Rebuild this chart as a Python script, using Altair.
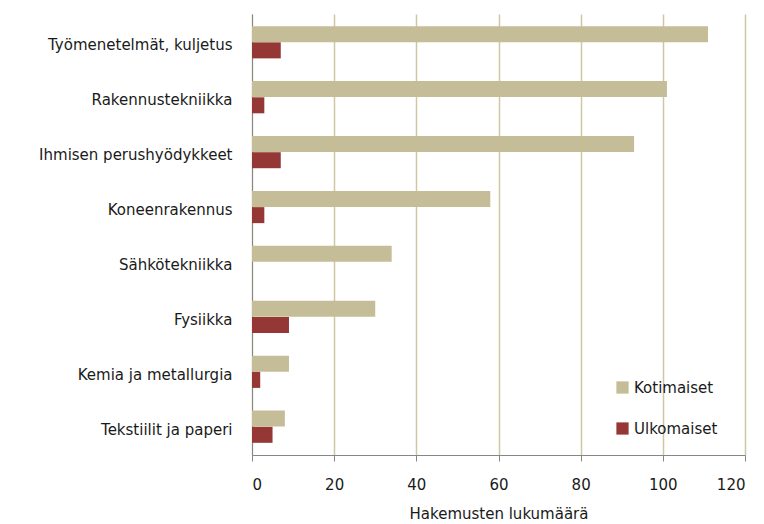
import altair as alt
import pandas as pd

categories = [
    "Työmenetelmät, kuljetus",
    "Rakennustekniikka",
    "Ihmisen perushyödykkeet",
    "Koneenrakennus",
    "Sähkötekniikka",
    "Fysiikka",
    "Kemia ja metallurgia",
    "Tekstiilit ja paperi",
]
kotimaiset = [111, 101, 93, 58, 34, 30, 9, 8]
ulkomaiset = [7, 3, 7, 3, 0, 9, 2, 5]
series = ["Kotimaiset", "Ulkomaiset"]
colors = ["#C4BD97", "#953735"]
x_ticks = [0, 20, 40, 60, 80, 100, 120]

rows = []
for c, k, u in zip(categories, kotimaiset, ulkomaiset):
    rows.append({"Luokka": c, "Sarja": series[0], "Arvo": k})
    rows.append({"Luokka": c, "Sarja": series[1], "Arvo": u})
df = pd.DataFrame(rows)

FONT = "DejaVu Sans"
FS = 15

chart = alt.Chart(df).mark_bar(size=16).encode(
    y=alt.Y(
        "Luokka:N",
        sort=categories,
        scale=alt.Scale(paddingInner=0.41, paddingOuter=0.22),
        axis=alt.Axis(
            title=None,
            ticks=False,
            labelPadding=20,
            labelOffset=3,
            labelFont=FONT,
            labelFontSize=FS,
            labelColor="#1a1a1a",
            domainColor="#868686",
            grid=False,
            labelLimit=300,
        ),
    ),
    yOffset=alt.YOffset("Sarja:N", sort=series),
    x=alt.X(
        "Arvo:Q",
        scale=alt.Scale(domain=[0, 120], nice=False),
        axis=alt.Axis(
            values=x_ticks,
            title="Hakemusten lukumäärä",
            titleFont=FONT,
            titleFontSize=FS,
            titleFontWeight="normal",
            titleColor="#1a1a1a",
            titlePadding=14,
            labelFont=FONT,
            labelFontSize=FS,
            labelColor="#1a1a1a",
            labelPadding=16,
            labelFlush=True,
            tickSize=6,
            tickColor="#868686",
            domainColor="#868686",
            grid=True,
            gridColor="#CFC7A2",
            gridWidth=1.5,
        ),
    ),
    color=alt.Color(
        "Sarja:N",
        sort=series,
        scale=alt.Scale(domain=series, range=colors),
        legend=alt.Legend(
            title=None,
            orient="none",
            legendX=363,
            legendY=366,
            symbolType="square",
            symbolSize=150,
            symbolStrokeWidth=0,
            labelFont=FONT,
            labelFontSize=FS,
            labelColor="#1a1a1a",
            rowPadding=25,
            labelOffset=4,
        ),
    ),
).properties(
    width=493,
    height=441,
    autosize=alt.AutoSizeParams(type="none"),
    padding={"left": 244, "top": 6, "right": 10, "bottom": 70},
).configure_view(stroke=None).configure_axis(domainWidth=1)

chart.save("out.html", embed_options={"renderer": "svg", "actions": False})
